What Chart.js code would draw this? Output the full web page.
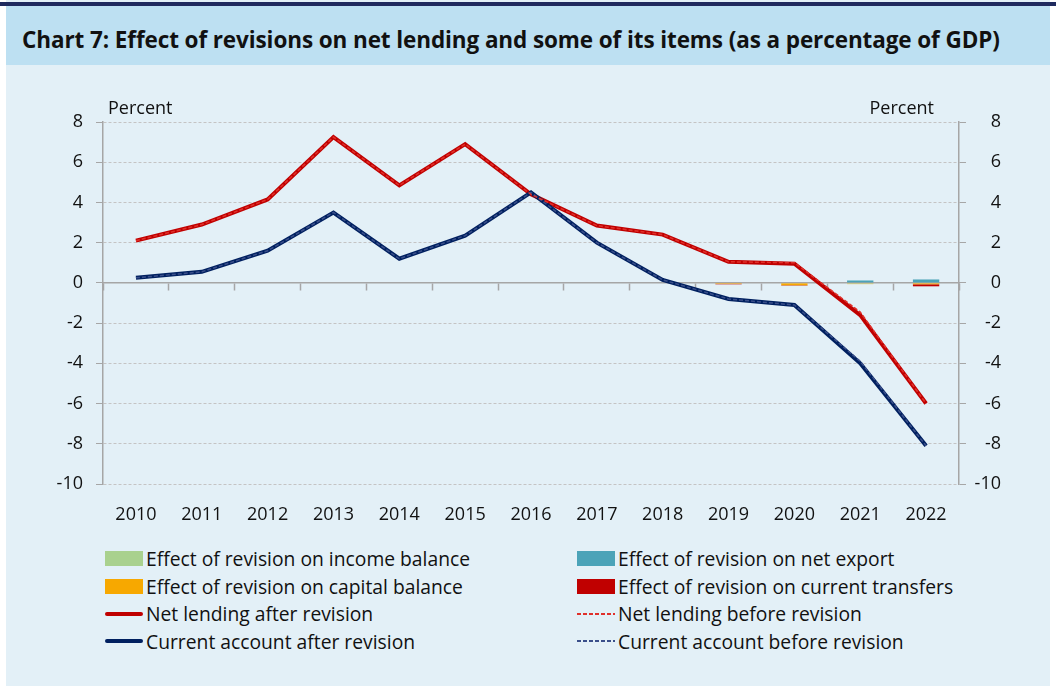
<!DOCTYPE html>
<html>
<head>
<meta charset="utf-8">
<script src="https://cdn.jsdelivr.net/npm/chart.js@4.4.1/dist/chart.umd.min.js"></script>
<style>
body { margin: 0; background: #fff; font-family: "Open Sans", sans-serif; }
#panel { position: absolute; left: 6px; top: 0; width: 1044px; height: 686px; background: #e3f0f7; }
#topline { position: absolute; left: 0; top: 2px; width: 1056px; height: 4px; background: #1f2a5e; }
#title { position: absolute; left: 6px; top: 6px; width: 1044px; height: 59px; background: #bde0f2;
  font-weight: bold; font-size: 22.5px; line-height: 30px; padding: 19px 0 0 16px; box-sizing: border-box;
  color: #111; white-space: nowrap; letter-spacing: -0.1px; }
#wrap { position: absolute; left: 0; top: 70px; width: 1056px; height: 470px; }
#legend { position: absolute; left: 105px; top: 545px; display: grid; grid-template-columns: 472px 440px; font-size: 19.3px; color: #111; }
.item { display: flex; align-items: center; height: 27.5px; white-space: nowrap; }
.mark { width: 38px; height: 15px; margin-right: 3px; position: relative; }
</style>
</head>
<body>
<div id="panel"></div>
<div id="topline"></div>
<div id="title">Chart 7: Effect of revisions on net lending and some of its items (as a percentage of GDP)</div>
<div id="wrap"><canvas id="grafico"></canvas></div>
<div id="legend"></div>
<script>
// dados
var anos = ['2010','2011','2012','2013','2014','2015','2016','2017','2018','2019','2020','2021','2022'];
var rendimento = [0, 0, 0, 0, 0, 0, 0, 0, 0, 0, 0, -0.04, 0.02];
var exportLiquida = [0, 0, 0, 0, 0, 0, 0, 0, 0, 0, 0, 0.12, 0.15];
var capital = [0, 0, 0, 0, 0, 0, 0, 0, 0, -0.05, -0.12, -0.02, -0.07];
var transferencias = [0, 0, 0, 0, 0, 0, 0, 0, 0, -0.02, -0.02, 0, -0.1];
var emprestimoDepois = [2.1, 2.9, 4.15, 7.25, 4.85, 6.9, 4.4, 2.85, 2.4, 1.05, 0.95, -1.6, -6.0];
var emprestimoAntes = [2.1, 2.9, 4.15, 7.25, 4.85, 6.9, 4.4, 2.85, 2.4, 1.05, 1.0, -1.45, -6.0];
var contaDepois = [0.25, 0.55, 1.6, 3.5, 1.2, 2.35, 4.5, 2.0, 0.15, -0.8, -1.1, -4.0, -8.1];
var contaAntes = [0.25, 0.55, 1.6, 3.5, 1.2, 2.35, 4.5, 2.0, 0.15, -0.8, -1.1, -3.9, -8.1];
var yMin = -10, yMax = 8, yPasso = 2;

var fonte = { family: '"Open Sans", sans-serif', size: 18 };
var cinza = '#a6a6a6';

var percentPlugin = {
    id: 'percent',
    afterDraw: function (chart) {
        var c = chart.ctx, a = chart.chartArea;
        c.save();
        c.font = '18px "Open Sans", sans-serif';
        c.fillStyle = '#111';
        c.textBaseline = 'middle';
        c.textAlign = 'left';
        c.fillText('Percent', a.left + 5, a.top - 13);
        c.textAlign = 'right';
        c.fillText('Percent', a.right - 25, a.top - 13);
        c.restore();
    }
};

function barra(label, dados, cor) {
    return { type: 'bar', label: label, data: dados, backgroundColor: cor, stack: 'efeitos',
             barPercentage: 0.8, categoryPercentage: 0.5, order: 3 };
}
function linha(label, dados, cor, largura, tracejado, ordem) {
    return { type: 'line', label: label, data: dados, borderColor: cor, backgroundColor: cor,
             borderWidth: largura, borderDash: tracejado, pointRadius: 0, tension: 0,
             stack: label, order: ordem };
}

var ctx = document.getElementById('grafico').getContext('2d');
var grafico = new Chart(ctx, {
    data: {
        labels: anos,
        datasets: [
            barra('Effect of revision on income balance', rendimento, '#a9d18e'),
            barra('Effect of revision on net export', exportLiquida, '#4ba3b8'),
            barra('Effect of revision on capital balance', capital, '#f7a800'),
            barra('Effect of revision on current transfers', transferencias, '#c00000'),
            linha('Net lending after revision', emprestimoDepois, '#c00000', 4, [], 2),
            linha('Net lending before revision', emprestimoAntes, '#e0302a', 1.5, [4, 2], 0),
            linha('Current account after revision', contaDepois, '#002060', 4, [], 1),
            linha('Current account before revision', contaAntes, '#3a4f8a', 1.5, [4, 2], 0)
        ]
    },
    options: {
        responsive: true,
        maintainAspectRatio: false,
        animation: false,
        layout: { padding: { top: 52, left: 0, right: 55, bottom: 0 } },
        plugins: { legend: { display: false }, tooltip: { enabled: false } },
        scales: {
            x: {
                stacked: true,
                offset: true,
                grid: { display: false },
                border: { display: false },
                ticks: { font: fonte, color: '#111', padding: 12, maxRotation: 0 },
                afterFit: function (s) { s.height = 56; }
            },
            x2: {
                type: 'category',
                labels: anos,
                offset: true,
                position: { y: 0 },
                ticks: { display: false },
                grid: { offset: true, drawOnChartArea: false, tickLength: 7, tickColor: cinza, tickWidth: 1.5 },
                border: { color: cinza, width: 1.5 }
            },
            y: {
                stacked: true,
                min: yMin, max: yMax,
                ticks: { stepSize: yPasso, font: fonte, color: '#111', padding: 13 },
                grid: { color: '#c4c4c4', lineWidth: 1, tickLength: 7, tickColor: cinza, tickBorderDash: [] },
                border: { color: cinza, width: 1.5, dash: [3, 2] },
                afterFit: function (s) { s.width = 103; }
            },
            y2: {
                position: 'right',
                min: yMin, max: yMax,
                ticks: { stepSize: yPasso, font: fonte, color: '#111', crossAlign: 'far' },
                grid: { drawOnChartArea: false, tickLength: 7, tickColor: cinza },
                border: { color: cinza, width: 1.5 },
                afterFit: function (s) { s.width = 42; }
            }
        }
    },
    plugins: [percentPlugin]
});

// legenda em html, duas colunas
var legenda = document.getElementById('legend');
grafico.data.datasets.forEach(function (ds) {
    var item = document.createElement('div');
    item.className = 'item';
    var marca = document.createElement('div');
    marca.className = 'mark';
    if (ds.type === 'bar') {
        marca.style.background = ds.backgroundColor;
    } else {
        var traco = document.createElement('div');
        traco.style.position = 'absolute';
        traco.style.left = '0';
        traco.style.right = '0';
        if (ds.borderDash.length) {
            traco.style.top = '6.5px';
            traco.style.height = '2px';
            traco.style.background = 'repeating-linear-gradient(to right, ' + ds.borderColor + ' 0 4px, transparent 4px 6px)';
        } else {
            traco.style.top = '5.5px';
            traco.style.height = '4px';
            traco.style.borderRadius = '2px';
            traco.style.background = ds.borderColor;
        }
        marca.appendChild(traco);
    }
    var texto = document.createElement('span');
    texto.textContent = ds.label;
    item.appendChild(marca);
    item.appendChild(texto);
    legenda.appendChild(item);
});
</script>
</body>
</html>
